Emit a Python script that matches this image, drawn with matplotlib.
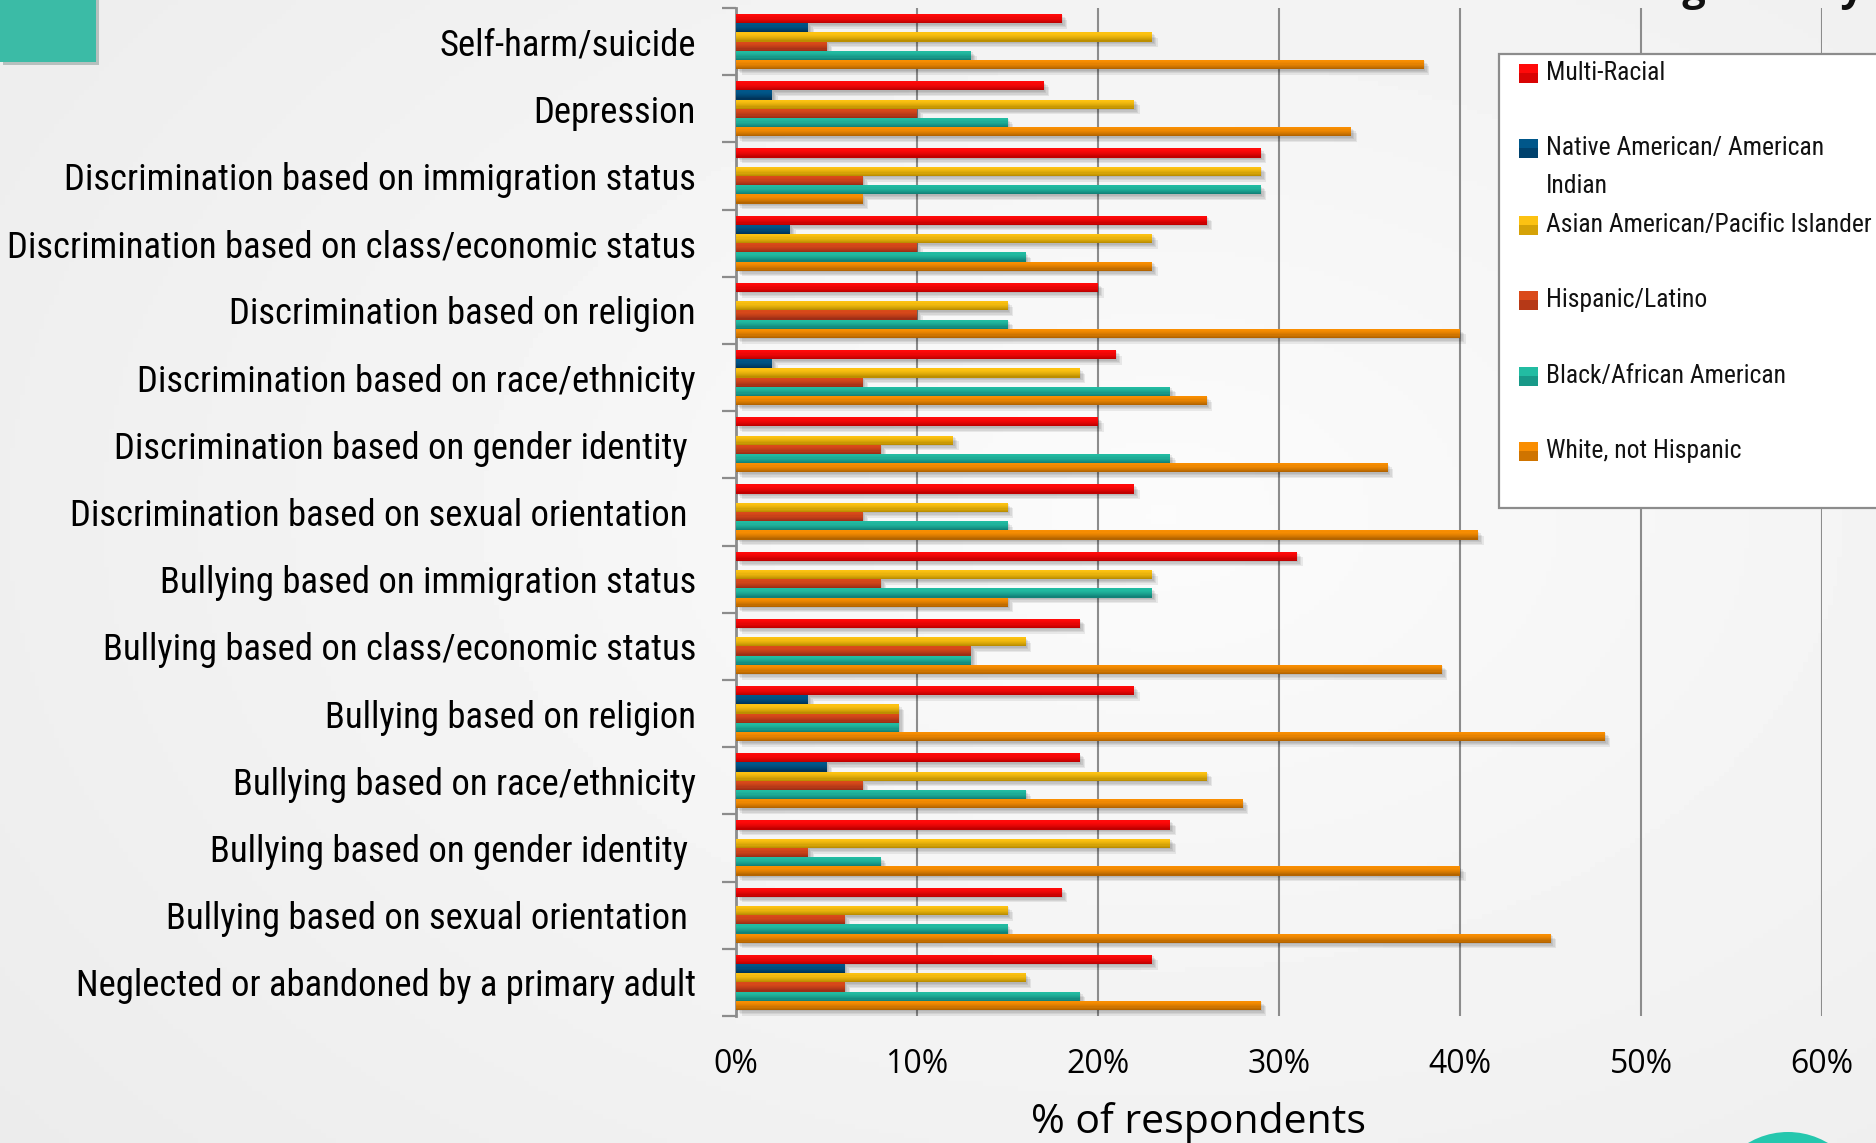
import numpy as np
import matplotlib
matplotlib.use('Agg')
import matplotlib.pyplot as plt
import matplotlib.patheffects as pe
from matplotlib import font_manager
from matplotlib.font_manager import FontProperties
from matplotlib.colors import to_rgb
from matplotlib.patches import Rectangle, Circle

# ---- data ----
categories = [
    'Self-harm/suicide',
    'Depression',
    'Discrimination based on immigration status',
    'Discrimination based on class/economic status',
    'Discrimination based on religion',
    'Discrimination based on race/ethnicity',
    'Discrimination based on gender identity ',
    'Discrimination based on sexual orientation ',
    'Bullying based on immigration status',
    'Bullying based on class/economic status',
    'Bullying based on religion',
    'Bullying based on race/ethnicity',
    'Bullying based on gender identity ',
    'Bullying based on sexual orientation ',
    'Neglected or abandoned by a primary adult',
]
series_names = ['Multi-Racial', 'Native American/ American', 'Asian American/Pacific Islander',
                'Hispanic/Latino', 'Black/African American', 'White, not Hispanic']
native_second_line = 'Indian'

multi_racial    = [18, 17, 29, 26, 20, 21, 20, 22, 31, 19, 22, 19, 24, 18, 23]
native_american = [4, 2, 0, 3, 0, 2, 0, 0, 0, 0, 4, 5, 0, 0, 6]
asian_pi        = [23, 22, 29, 23, 15, 19, 12, 15, 23, 16, 9, 26, 24, 15, 16]
hispanic_latino = [5, 10, 7, 10, 10, 7, 8, 7, 8, 13, 9, 7, 4, 6, 6]
black_aa        = [13, 15, 29, 16, 15, 24, 24, 15, 23, 13, 9, 16, 8, 15, 19]
white_nh        = [38, 34, 7, 23, 40, 26, 36, 41, 15, 39, 48, 28, 40, 45, 29]
series_values = [multi_racial, native_american, asian_pi, hispanic_latino, black_aa, white_nh]

top_colors = ['#ff0a0a', '#00578a', '#fcc212', '#da4a1a', '#22bca2', '#f98e02']
bottom_colors = ['#c00000', '#00345a', '#bc8e00', '#9e2e16', '#128278', '#b46400']

x_ticks = [0, 10, 20, 30, 40, 50, 60]
x_tick_labels = ['0%', '10%', '20%', '30%', '40%', '50%', '60%']


# ---- fonts: look for a condensed sans (Calibri-like look), else plain ----
def find_narrow():
    prefs = ['Liberation Sans Narrow', 'Roboto Condensed', 'Open Sans Condensed',
             'Noto Sans Condensed', 'DejaVu Sans Condensed']
    regular = [f for f in font_manager.fontManager.ttflist
               if f.style == 'normal' and f.weight in (400, 'normal', 'regular', 'book')]
    for p in prefs:
        for f in regular:
            if f.name == p:
                return FontProperties(fname=f.fname)
    for f in regular:
        if f.stretch in ('condensed', 'semi-condensed') and f.name in ('Noto Sans', 'DejaVu Sans', 'Open Sans', 'Roboto'):
            return FontProperties(fname=f.fname)
    return FontProperties(family='Liberation Sans')


installed = {f.name for f in font_manager.fontManager.ttflist}
PLAIN = 'Open Sans' if 'Open Sans' in installed else 'DejaVu Sans'
narrow_fp = find_narrow()

W, H = 1876, 1143
fig = plt.figure(figsize=(W / 100, H / 100), dpi=100)
renderer = fig.canvas.get_renderer()


def fit_size(text, fp, target_px, base=20.0):
    t = fig.text(0, 0, text, fontproperties=fp, fontsize=base)
    w = t.get_window_extent(renderer).width
    t.remove()
    return base * target_px / w


label_size = fit_size('Discrimination based on class/economic status', narrow_fp, 687)
legend_size = fit_size('Asian American/Pacific Islander', narrow_fp, 326)

# soft grey slide background
bg = fig.add_axes([0, 0, 1, 1], zorder=-10)
yy, xx = np.mgrid[0:1:240j, 0:1:380j]
rr = np.hypot((xx - 0.62) * 1.1, (yy - 0.45))
bg.imshow(0.985 - 0.07 * rr, cmap='gray', vmin=0, vmax=1, extent=[0, 1, 0, 1], aspect='auto')
bg.axis('off')

ax = fig.add_axes([736 / W, 1 - 1016 / H, (1822 - 736) / W, (1016 - 8) / H])
ax.set_facecolor('none')

n_groups = len(categories)
n_series = len(series_values)
h = 0.82 / n_series
y_base = np.arange(n_groups)
n_strip = 8
shadow = [pe.SimplePatchShadow(offset=(d, -d), shadow_rgbFace='black', alpha=0.07) for d in (1, 2, 3, 4)]
for j, vals in enumerate(series_values):
    y0 = y_base - 0.41 + j * h
    c_top = np.array(to_rgb(top_colors[j]))
    c_bot = np.array(to_rgb(bottom_colors[j]))
    ax.barh(y0 + h / 2, vals, height=h, color=c_bot, linewidth=0, zorder=3,
            path_effects=shadow + [pe.Normal()])
    for k in range(n_strip):
        t = (k / (n_strip - 1)) ** 1.5
        ax.barh(y0 + (k + 0.5) * h / n_strip, vals, height=h / n_strip * 1.1,
                color=(1 - t) * c_top + t * c_bot, linewidth=0, zorder=4)

ax.set_xlim(0, 60)
ax.set_ylim(n_groups - 0.5, -0.5)
ax.set_xticks(x_ticks)
ax.set_xticklabels(x_tick_labels, fontsize=23, family=PLAIN)
ax.tick_params(axis='x', length=0, pad=23)
ax.set_yticks(np.arange(n_groups + 1) - 0.5)
ax.set_yticklabels([])
ax.set_yticks(y_base, minor=True)
ax.set_yticklabels(categories, minor=True)
for lab in ax.get_yticklabels(minor=True):
    lab.set_fontproperties(narrow_fp)
    lab.set_fontsize(label_size)
ax.tick_params(axis='y', which='major', length=10, width=1.6, color='#8c8c8c', direction='out')
ax.tick_params(axis='y', which='minor', length=0, pad=28.8)
ax.xaxis.grid(True, color='#8c8c8c', linewidth=1.5)
ax.set_axisbelow(True)
for s in ['top', 'right', 'bottom']:
    ax.spines[s].set_visible(False)
ax.spines['left'].set_color('#8c8c8c')
ax.spines['left'].set_linewidth(2)

fig.text(1198 / W, 1 - 1133 / H, '% of respondents', ha='center', va='baseline',
         fontsize=29.5, family=PLAIN)

# overlay in pixel coordinates for legend and slide decorations
ov = fig.add_axes([0, 0, 1, 1], zorder=5)
ov.set_xlim(0, W)
ov.set_ylim(H, 0)
ov.axis('off')

ov.add_patch(Rectangle((1499, 54), 420, 454, facecolor='white', edgecolor='#8c8c8c', linewidth=1.6))
entry_y = [73, 148, 225, 300, 376, 451]
for j, name in enumerate(series_names):
    ov.add_patch(Rectangle((1519, entry_y[j] - 9.5), 19, 19,
                           facecolor=top_colors[j], edgecolor='none'))
    ov.add_patch(Rectangle((1519, entry_y[j]), 19, 9.5,
                           facecolor=bottom_colors[j], edgecolor='none', alpha=0.6))
    ov.text(1546, entry_y[j], name, ha='left', va='center', fontsize=legend_size,
            fontproperties=narrow_fp, color='#111111')
ov.text(1546, 186, native_second_line, ha='left', va='center', fontsize=legend_size,
        fontproperties=narrow_fp, color='#111111')

# slide decorations
ov.add_patch(Rectangle((0, -5), 96, 67, facecolor='#3bbba6', edgecolor='none',
                       path_effects=[pe.SimplePatchShadow(offset=(2, -2), alpha=0.25), pe.Normal()]))
ov.add_patch(Circle((1788, 1210), 78, facecolor='#25c7ae', edgecolor='none'))
ov.text(1864, 0, 'King County', ha='right', va='baseline', fontsize=29.7,
        fontweight='bold', family=PLAIN, color='#111111')

fig.savefig('out.png', dpi=100, facecolor=fig.get_facecolor())
